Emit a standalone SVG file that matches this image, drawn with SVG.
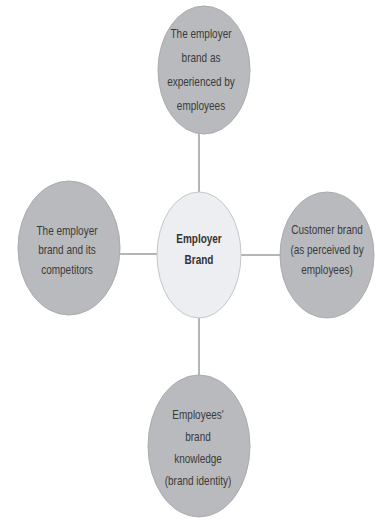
<svg xmlns="http://www.w3.org/2000/svg" width="377" height="520" viewBox="0 0 377 520">
  <style>
    .outer { fill: #b8babd; stroke: #aaacaf; stroke-width: 1; }
    .core { fill: #eceef1; stroke: #c4c6c9; stroke-width: 1; }
    .link { stroke: #9a9c9f; stroke-width: 1.5; fill: none; }
    .lbl { font-family: "Liberation Sans", Arial, sans-serif; font-size: 12.5px; fill: #3b3b3b; text-anchor: middle; }
    .lbl-b { font-family: "Liberation Sans", Arial, sans-serif; font-size: 12.5px; font-weight: bold; fill: #333; text-anchor: middle; }
  </style>
  <rect width="377" height="520" fill="#ffffff"/>

  <!-- connectors from the hub to each satellite -->
  <g id="connectors">
    <line class="link" x1="199" y1="134" x2="199" y2="192"/>
    <line class="link" x1="120" y1="254" x2="157" y2="254"/>
    <line class="link" x1="241" y1="255" x2="281" y2="255"/>
    <line class="link" x1="199" y1="318" x2="199" y2="376"/>
  </g>

  <g id="node-experienced">
    <ellipse class="outer" cx="204" cy="70" rx="46" ry="64"/>
    <g transform="translate(201 0) scale(0.8 1)">
      <text class="lbl" x="0" y="38">The employer</text>
      <text class="lbl" x="0" y="62">brand as</text>
      <text class="lbl" x="0" y="86">experienced by</text>
      <text class="lbl" x="0" y="110">employees</text>
    </g>
  </g>

  <g id="node-competitors">
    <ellipse class="outer" cx="69" cy="248" rx="51" ry="67"/>
    <g transform="translate(67 0) scale(0.8 1)">
      <text class="lbl" x="0" y="235">The employer</text>
      <text class="lbl" x="0" y="254">brand and its</text>
      <text class="lbl" x="0" y="274">competitors</text>
    </g>
  </g>

  <g id="node-employer-brand">
    <ellipse class="core" cx="199" cy="255" rx="42" ry="63"/>
    <g transform="translate(199 0) scale(0.8 1)">
      <text class="lbl-b" x="0" y="243">Employer</text>
      <text class="lbl-b" x="0" y="264">Brand</text>
    </g>
  </g>

  <g id="node-customer">
    <ellipse class="outer" cx="327" cy="255" rx="47" ry="63"/>
    <g transform="translate(327 0) scale(0.8 1)">
      <text class="lbl" x="0" y="234">Customer brand</text>
      <text class="lbl" x="0" y="254">(as perceived by</text>
      <text class="lbl" x="0" y="274">employees)</text>
    </g>
  </g>

  <g id="node-knowledge">
    <ellipse class="outer" cx="199" cy="446" rx="51" ry="71"/>
    <g transform="translate(198 0) scale(0.8 1)">
      <text class="lbl" x="0" y="419">Employees'</text>
      <text class="lbl" x="0" y="441">brand</text>
      <text class="lbl" x="0" y="463">knowledge</text>
      <text class="lbl" x="0" y="485">(brand identity)</text>
    </g>
  </g>
</svg>
